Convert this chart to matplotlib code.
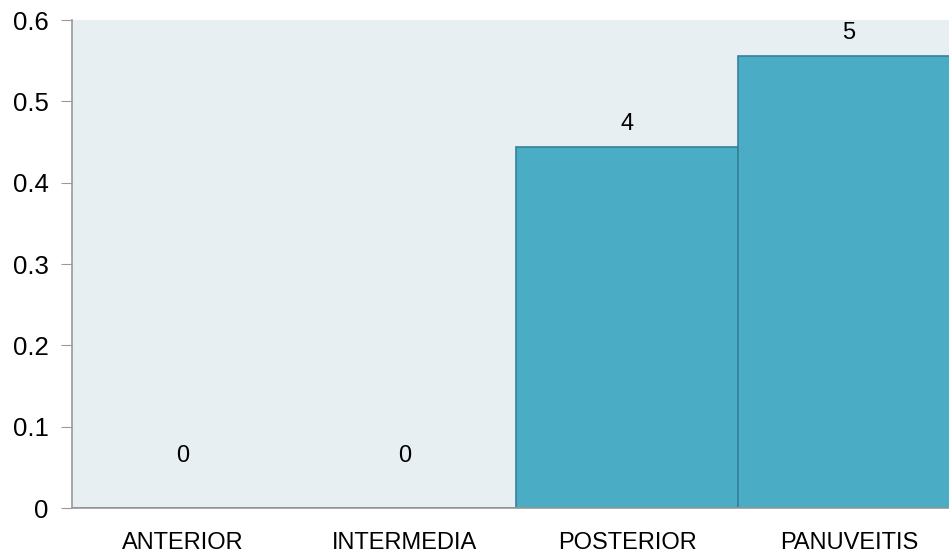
import numpy as np
import matplotlib.pyplot as plt

plt.rcParams['font.family'] = ['Liberation Sans', 'DejaVu Sans']

categories = ['ANTERIOR', 'INTERMEDIA', 'POSTERIOR', 'PANUVEITIS']
counts = [0, 0, 4, 5]
fractions = [0, 0, 0.444, 0.556]
yticks = [0, 0.1, 0.2, 0.3, 0.4, 0.5, 0.6]

fig = plt.figure(figsize=(9.49, 5.52), dpi=100)
# plot area runs slightly past the right edge of the image, as in the original
ax = fig.add_axes([72 / 949, 44 / 552, 888 / 949, 488 / 552])
ax.set_facecolor('#e8eff3')

x = np.arange(len(categories))
ax.bar(x, fractions, width=1.0, color='#4bacc6', edgecolor='#35819a', linewidth=1.2)

for xi, v, c in zip(x, fractions, counts):
    # empty bars get their label lifted off the baseline
    off = 0.014 if v > 0 else 0.05
    ax.text(xi, v + off, str(c), ha='center', va='bottom', fontsize=17)

ax.set_xlim(-0.5, len(categories) - 0.5)
ax.set_ylim(0, 0.6)
ax.set_yticks(yticks)
ax.set_yticklabels(['0'] + [str(t) for t in yticks[1:]], fontsize=18.5)
ax.set_xticks(x)
ax.set_xticklabels(categories, fontsize=17)
ax.tick_params(axis='x', length=0, pad=17)
ax.tick_params(axis='y', length=8, color='#999999', pad=9)

for s in ['top', 'right']:
    ax.spines[s].set_visible(False)
ax.spines['left'].set_color('#999999')
ax.spines['bottom'].set_color('#999999')
ax.spines['left'].set_linewidth(1.2)
ax.spines['bottom'].set_linewidth(1.2)

fig.savefig('out.png', dpi=100)
